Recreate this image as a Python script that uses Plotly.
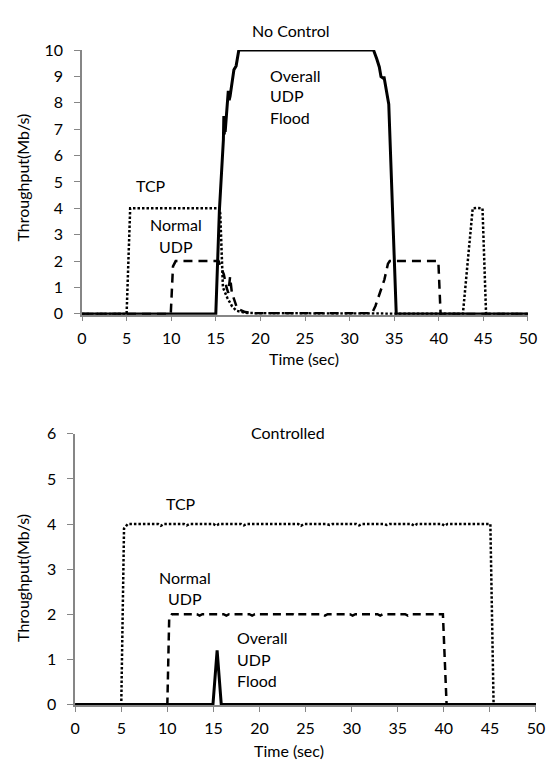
import plotly.graph_objects as go

W, H = 556, 767

# ---------------- Top chart: No Control ----------------
top_tcp_t = [0, 5.0, 5.4, 8, 12, 15.4, 15.5, 15.65, 15.8, 16.3, 16.8, 17.3, 18.5, 25, 33, 42.7, 43.8, 44.3, 44.9, 45.3, 50]
top_tcp_v = [0, 0, 4.0, 4.0, 4.0, 4.0, 3.8, 2.0, 1.0, 0.6, 0.3, 0.12, 0.03, 0.02, 0.02, 0, 4.0, 4.02, 4.0, 0, 0]

top_udp_t = [0, 9.95, 10.2, 10.5, 12, 15.3, 15.6, 15.9, 16.2, 16.4, 16.6, 16.8, 17.1, 17.4, 18.3, 19.5, 25, 32.5, 32.9, 33.4, 33.9, 34.3, 34.5, 38, 39.95, 40.2, 50]
top_udp_v = [0, 0, 1.8, 2.0, 2.0, 2.0, 1.75, 1.5, 1.0, 0.8, 1.4, 0.8, 0.5, 0.2, 0.07, 0.02, 0.02, 0.02, 0.3, 0.8, 1.3, 1.9, 2.0, 2.0, 2.0, 0, 0]

top_flood_t = [0, 15.0, 15.4, 15.85, 15.9, 15.95, 16.0, 16.05, 16.4, 16.5, 16.6, 16.85, 17.03, 17.28, 17.58, 25, 32.68, 33.04, 33.33, 33.52, 33.77, 33.85, 34.13, 34.39, 35.23, 50]
top_flood_v = [0, 0, 3.9, 6.6, 7.5, 6.8, 7.3, 6.9, 8.45, 8.1, 8.25, 8.9, 9.25, 9.4, 10, 10, 10, 9.67, 9.36, 8.99, 8.93, 9.0, 8.44, 7.95, 0, 0]

# ---------------- Bottom chart: Controlled ----------------
bot_tcp_t = [0, 5.0, 5.3, 5.7, 9.0, 9.3, 9.6, 11.8, 12.1, 12.4, 15.0, 15.3, 15.6, 18.0, 18.3, 18.6,
             24.2, 24.5, 24.8, 27.3, 27.6, 27.9, 30.5, 30.8, 31.1, 33.5, 33.8, 34.1, 36.5, 36.8, 37.1,
             39.8, 40.1, 40.4, 45.05, 45.4, 50]
bot_tcp_v = [0, 0, 3.9, 4.0, 4.0, 3.96, 4.0, 4.0, 3.97, 4.0, 4.0, 3.96, 4.0, 4.0, 3.97, 4.0,
             4.0, 3.96, 4.0, 4.0, 3.98, 4.0, 4.0, 3.97, 4.0, 4.0, 3.98, 4.0, 4.0, 3.96, 4.0,
             4.0, 3.96, 4.0, 4.0, 0, 0]

bot_udp_t = [0, 10.0, 10.2, 10.5, 13.2, 13.5, 13.8, 16.1, 16.4, 16.7, 18.9, 19.2, 19.5, 23.6, 23.9, 24.2,
             26.8, 27.1, 27.4, 29.8, 30.1, 30.4, 32.8, 33.1, 33.4, 35.8, 36.1, 36.4, 39.9, 40.3, 50]
bot_udp_v = [0, 0, 1.9, 2.0, 2.0, 1.97, 2.0, 2.0, 1.97, 2.0, 2.0, 1.97, 2.0, 2.0, 1.97, 2.0,
             2.0, 1.97, 2.0, 2.0, 1.97, 2.0, 2.0, 1.97, 2.0, 2.0, 1.97, 2.0, 2.0, 0, 0]

bot_flood_t = [0, 14.95, 15.4, 15.85, 50]
bot_flood_v = [0, 0, 1.2, 0, 0]

x_ticks = [0, 5, 10, 15, 20, 25, 30, 35, 40, 45, 50]

FONT = "Lato, 'Open Sans', sans-serif"
FS = 16
AX = "#868686"


def px(x, y):
    return x / W, 1 - y / H


fig = go.Figure()

dot = dict(color="black", width=2.5, dash="2.5px,2px")
fig.add_trace(go.Scatter(x=top_tcp_t, y=top_tcp_v, mode="lines", line=dot, xaxis="x", yaxis="y", showlegend=False))
fig.add_trace(go.Scatter(x=top_udp_t, y=top_udp_v, mode="lines",
                         line=dict(color="black", width=2.5, dash="9px,6px"), xaxis="x", yaxis="y", showlegend=False))
fig.add_trace(go.Scatter(x=top_flood_t, y=top_flood_v, mode="lines",
                         line=dict(color="black", width=3), xaxis="x", yaxis="y", showlegend=False))

fig.add_trace(go.Scatter(x=bot_tcp_t, y=bot_tcp_v, mode="lines", line=dot, xaxis="x2", yaxis="y2", showlegend=False))
fig.add_trace(go.Scatter(x=bot_udp_t, y=bot_udp_v, mode="lines",
                         line=dict(color="black", width=2.5, dash="8px,5px"), xaxis="x2", yaxis="y2", showlegend=False))
fig.add_trace(go.Scatter(x=bot_flood_t, y=bot_flood_v, mode="lines",
                         line=dict(color="black", width=3), xaxis="x2", yaxis="y2", showlegend=False))

common_x = dict(range=[0, 50], tickmode="array", tickvals=x_ticks, ticktext=[str(v) for v in x_ticks],
                showline=True, linecolor=AX, linewidth=1.5, ticks="outside", ticklen=5, tickcolor=AX,
                showgrid=False, zeroline=False, tickfont=dict(family=FONT, size=FS, color="black"),
                ticklabelstandoff=3, fixedrange=True)
common_y = dict(dtick=1, showline=True, linecolor=AX, linewidth=1.5, ticks="outside", ticklen=6,
                tickcolor=AX, showgrid=False, zeroline=False, tickfont=dict(family=FONT, size=FS, color="black"),
                ticklabelstandoff=8, fixedrange=True)

fig.update_layout(
    width=W, height=H, margin=dict(l=0, r=0, t=0, b=0),
    paper_bgcolor="white", plot_bgcolor="white",
    font=dict(family=FONT, size=FS, color="black"),
    xaxis=dict(domain=[79 / W, 536.5 / W], anchor="y", **common_x),
    yaxis=dict(domain=[1 - 312 / H, 1 - 41 / H], anchor="x", range=[-0.03, 10], tick0=0, **common_y),
    xaxis2=dict(domain=[72 / W, 544.7 / W], anchor="y2", **common_x),
    yaxis2=dict(domain=[1 - 712 / H, 1 - 434 / H], anchor="x2", range=[-0.02, 6], tick0=0, **common_y),
)

anns = [
    ("No Control", 293, 21, "center", 0),
    ("Overall", 270, 67, "left", 0),
    ("UDP", 270, 88, "left", 0),
    ("Flood", 270, 110, "left", 0),
    ("TCP", 150, 180, "center", 0),
    ("Normal", 175, 220, "center", 0),
    ("UDP", 175, 242, "center", 0),
    ("Time (sec)", 307, 357, "center", 0),
    ("Throughput(Mb/s)", 18, 172, "center", -90),
    ("Controlled", 290.5, 433, "center", 0),
    ("TCP", 181, 505, "center", 0),
    ("Normal", 185, 581, "center", 0),
    ("UDP", 185, 603, "center", 0),
    ("Overall", 236, 643, "left", 0),
    ("UDP", 236, 665, "left", 0),
    ("Flood", 236, 687, "left", 0),
    ("Time (sec)", 291, 758, "center", 0),
    ("Throughput(Mb/s)", 18, 582, "center", -90),
]
for text, x, y, xa, ang in anns:
    ax_, ay_ = px(x, y)
    fig.add_annotation(text=text, x=ax_, y=ay_, xref="paper", yref="paper", xanchor=xa, yanchor="middle",
                       showarrow=False, textangle=ang, font=dict(family=FONT, size=FS, color="black"))

fig.write_html(
    "out.html",
    config={"displayModeBar": False},
    post_script="document.body.style.margin='0';document.body.style.padding='0';"
                "document.documentElement.style.overflow='hidden';",
)
